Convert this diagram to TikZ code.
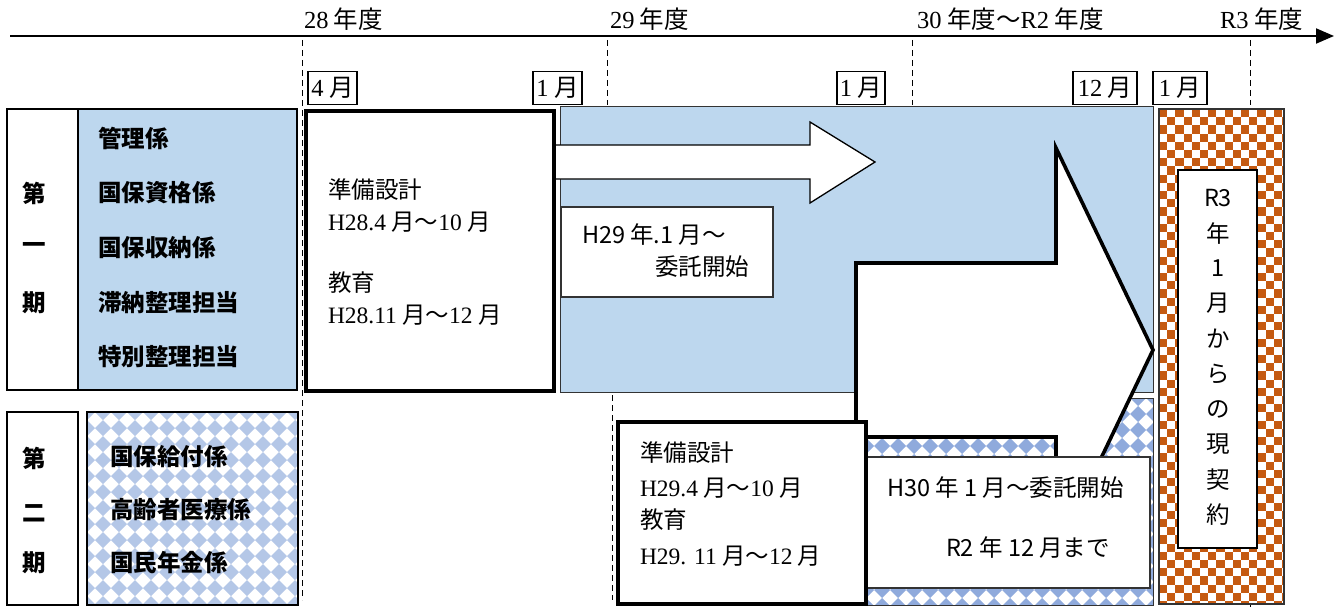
\documentclass[tikz,border=0pt]{standalone}
\usepackage{fontspec}
\setmainfont{Noto Sans CJK JP}
\newfontfamily\lat{Liberation Serif}
\usetikzlibrary{arrows.meta}
\definecolor{blueF}{HTML}{BDD7EE}
\definecolor{diaL}{HTML}{B4C7E7}
\definecolor{diaD}{HTML}{8FAADC}
\definecolor{orng}{HTML}{C55A11}
\newcommand\fs{\fontsize{23.5}{28}\selectfont}
\newcommand\fy{\fontsize{24.5}{29}\selectfont}
\newcommand\diafill[6]{%
  \begin{scope}
  \clip (#1,#2) rectangle (#3,#4);
  \fill[white] (#1,#2) rectangle (#3,#4);
  \pgfmathtruncatemacro\nx{(#3-#1)/#6+1}
  \pgfmathtruncatemacro\ny{(#4-#2)/#6+1}
  \foreach \i in {0,...,\nx}{\foreach \j in {0,...,\ny}{
    \fill[#5] ({#1+\i*#6},{#2+\j*#6-#6/2}) -- ++({#6/2},{#6/2}) -- ++({-#6/2},{#6/2}) -- ++({-#6/2},{-#6/2}) -- cycle;
  }}
  \end{scope}}
\newcommand\checkfill[5]{%
  \begin{scope}
  \clip (#1,#2) rectangle (#3,#4);
  \fill[white] (#1,#2) rectangle (#3,#4);
  \pgfmathtruncatemacro\nx{(#3-#1)/#5}
  \pgfmathtruncatemacro\ny{(#4-#2)/#5}
  \foreach \i in {0,...,\nx}{\foreach \j in {0,...,\ny}{
    \pgfmathtruncatemacro\pp{mod(\i+\j,2)}
    \ifnum\pp=0 \fill[orng] ({#1+\i*#5},{#2+\j*#5}) rectangle ++(#5,#5);\fi
  }}
  \end{scope}}
\begin{document}
\begin{tikzpicture}[x=1pt,y=-1pt,
  every node/.style={inner sep=0pt,outer sep=0pt,font=\fs},
  thinbox/.style={draw=black,line width=1.3pt},
  thickbox/.style={draw=black,line width=3.6pt},
  dashv/.style={draw=black,line width=1pt,dash pattern=on 6pt off 4pt},
  monthbox/.style={draw=black,line width=1.6pt,fill=white,minimum height=33pt,inner sep=0pt,font=\fy},
  lbl/.style={anchor=west},
  yl/.style={anchor=west,font=\fy},
  bl/.style={anchor=west,font=\fs\bfseries}]
\useasboundingbox (0,0) rectangle (1335,607);
\fill[white] (0,0) rectangle (1335,607);
% dashed guide lines
\draw[dashv] (302,40) -- (302,600);
\draw[dashv] (607,40) -- (607,105);
\draw[dashv] (612,395) -- (612,600);
\draw[dashv] (912,40) -- (912,105);
\draw[dashv] (1250,40) -- (1250,105);
\draw[dashv] (1250,602) -- (1250,607);
% time axis
\coordinate (axL) at (10,36);
\coordinate (axR) at (1334,36);
\draw[line width=2pt,-{Triangle[length=18pt,width=15pt]}] (axL) -- (axR);
\node[yl] (y28) at (304,19) {{\lat 28} 年度};
\node[yl] (y29) at (610,19) {{\lat 29} 年度};
\node[yl] (y30) at (917,19) {{\lat 30} 年度～{\lat R2} 年度};
\node[yl] (yR3) at (1220,19) {{\lat R3} 年度};
% month boxes
\node[monthbox,minimum width=49pt] (m4) at (332.5,88) {{\lat 4} 月};
\node[monthbox,minimum width=49pt] (m1a) at (557.5,88) {{\lat 1} 月};
\node[monthbox,minimum width=48pt] (m1b) at (861,88) {{\lat 1} 月};
\node[monthbox,minimum width=64pt] (m12) at (1105,88) {{\lat 12} 月};
\node[monthbox,minimum width=54pt] (m1c) at (1180,88) {{\lat 1} 月};
% phase 1 left
\draw[thinbox,fill=white] (7,109) rectangle (78,390);
\draw[thinbox,fill=blueF] (78,109) rectangle (297,390);
\node[bl] (p1a) at (22,193) {第};
\node[bl] (p1b) at (22,248) {一};
\node[bl] (p1c) at (22,303) {期};
\node[bl] (k1) at (98,138) {管理係};
\node[bl] (k2) at (98,193) {国保資格係};
\node[bl] (k3) at (98,248) {国保収納係};
\node[bl] (k4) at (98,303) {滞納整理担当};
\node[bl] (k5) at (98,357) {特別整理担当};
% phase 1 preparation box
\draw[thickbox,fill=white] (306,111) rectangle (554,391);
\node[lbl] (b1a) at (328,190) {準備設計};
\node[lbl] (b1b) at (328,222) {{\lat H28.4} 月～{\lat 10} 月};
\node[lbl] (b1c) at (328,283) {教育};
\node[lbl] (b1d) at (328,315) {{\lat H28.11} 月～{\lat 12} 月};
% blue contract band
\draw[draw=black!80,line width=1pt,fill=blueF] (560,107) rectangle (1153,392);
% thin white arrow
\fill[white] (556,145) -- (810,145) -- (810,122) -- (875,162) -- (810,203) -- (810,179) -- (556,179) -- cycle;
\draw[line width=1.3pt,line join=miter] (556,145) -- (810,145) -- (810,122) -- (875,162) -- (810,203) -- (810,179) -- (556,179);
% H29 box
\draw[draw=black!80,line width=1.2pt,fill=white] (561,207) rectangle (773,297);
\node[lbl] (h29a) at (582,235) {H29 年.1 月～};
\node[lbl] (h29b) at (655,267) {委託開始};
% phase 2 patterned bar
\diafill{866}{398}{1153}{605}{diaD}{16}
\draw[draw=black!80,line width=1pt] (866,398) rectangle (1153,605);
% big white arrow
\draw[line width=3.6pt,line join=miter,fill=white] (856,263) -- (1056,263) -- (1056,148) -- (1153,350) -- (1056,552) -- (1056,437) -- (856,437) -- cycle;
% H30 box
\draw[draw=black!80,line width=1.3pt,fill=white] (866,457) rectangle (1150,588);
\node[lbl] (h30a) at (887,488) {H30 年 1 月～委託開始};
\node[lbl] (h30b) at (946,548) {R2 年 12 月まで};
% phase 2 preparation box
\draw[thickbox,fill=white] (618,422) rectangle (866,604);
\node[lbl] (b2a) at (640,453) {準備設計};
\node[lbl] (b2b) at (640,488) {{\lat H29.4} 月～{\lat 10} 月};
\node[lbl] (b2c) at (640,520) {教育};
\node[lbl] (b2d) at (640,556) {{\lat H29. 11} 月～{\lat 12} 月};
% checkered current contract
\checkfill{1159}{109}{1284}{604}{8.2}
\draw[draw=black!80,line width=1.2pt] (1159,109) rectangle (1284,604);
\draw[thinbox,fill=white] (1178,170) rectangle (1257,548);
\foreach \t [count=\k from 0] in {R3,年,1,月,か,ら,の,現,契,約}{
  \node (v\k) at (1218,{198+35.2*\k}) {\t};
}
% phase 2 left
\draw[thinbox,fill=white] (7,412) rectangle (78,605);
\diafill{87}{412}{298}{605}{diaL}{16}
\draw[thinbox] (87,412) rectangle (298,605);
\node[bl] (p2a) at (22,458) {第};
\node[bl] (p2b) at (22,513) {二};
\node[bl] (p2c) at (22,563) {期};
\node[bl] (k6) at (110,457) {国保給付係};
\node[bl] (k7) at (110,510) {高齢者医療係};
\node[bl] (k8) at (110,563) {国民年金係};
\end{tikzpicture}
\end{document}
